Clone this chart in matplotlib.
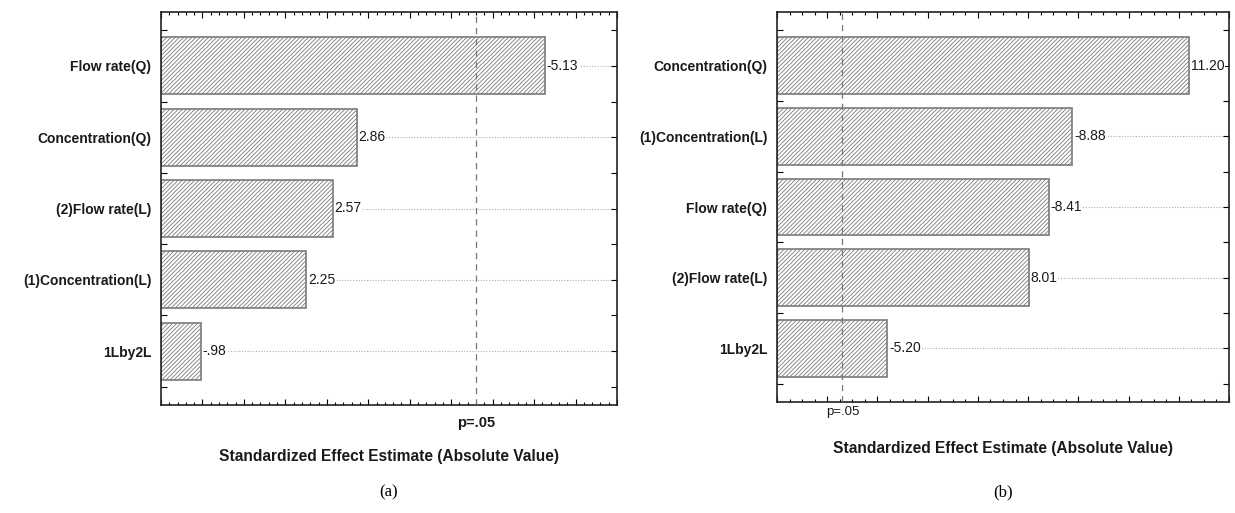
import matplotlib
matplotlib.use("Agg")
import matplotlib.pyplot as plt
from matplotlib.ticker import MultipleLocator, FixedLocator
import matplotlib.transforms as mtrans

plt.rcParams['font.family'] = ['Liberation Sans', 'DejaVu Sans']
plt.rcParams['hatch.linewidth'] = 0.6
plt.rcParams['hatch.color'] = '#7a7a7a'

# Panel (a)
labels_a = ["Flow rate(Q)", "Concentration(Q)", "(2)Flow rate(L)", "(1)Concentration(L)", "1Lby2L"]
values_a = [5.13, 2.86, 2.57, 2.25, 0.98]
texts_a = ["-5.13", "2.86", "2.57", "2.25", "-.98"]
xlim_a = (0.5, 6.0)

# Panel (b)
labels_b = ["Concentration(Q)", "(1)Concentration(L)", "Flow rate(Q)", "(2)Flow rate(L)", "1Lby2L"]
values_b = [11.20, 8.88, 8.41, 8.01, 5.20]
texts_b = ["11.20", "-8.88", "-8.41", "8.01", "-5.20"]
xlim_b = (3.0, 12.0)

p_crit = 4.303
xlabel = "Standardized Effect Estimate (Absolute Value)"

fig = plt.figure(figsize=(12.35, 5.13), dpi=100)
W, H = 1235, 513

def make_ax(l, r, t, b):
    return fig.add_axes([l / W, 1 - b / H, (r - l) / W, (b - t) / H])

ax_a = make_ax(161, 617, 12, 405)
ax_b = make_ax(777, 1229, 12, 402)

text_col = '#1a1a1a'

def draw(ax, labels, values, texts, xlim, p_bold, p_off, xl_y, minor_step, major_step):
    n = len(labels)
    ys = list(range(n))
    xmin = xlim[0]
    for y in ys:
        ax.axhline(y, color='#b0b0b0', linestyle=(0, (1, 1.5)), linewidth=0.8, zorder=0)
    ax.barh(ys, [v - xmin for v in values], left=xmin, height=0.8,
            color='white', edgecolor='#7a7a7a', hatch='////////', linewidth=1.2, zorder=2)
    ax.axvline(p_crit, color='#777777', linestyle=(0, (5, 4)), linewidth=0.9, zorder=3)
    for y, v, t in zip(ys, values, texts):
        ax.text(v + (xlim[1] - xlim[0]) * 0.004, y, t, ha='left', va='center', fontsize=10,
                color=text_col, zorder=4,
                bbox=dict(facecolor='white', edgecolor='none', pad=0.5))
    ax.set_xlim(*xlim)
    ax.set_ylim(n - 1 + 0.757, -0.757)
    ax.set_yticks(ys)
    ax.set_yticklabels(labels, fontsize=10, fontweight='bold', color=text_col)
    ax.yaxis.set_minor_locator(FixedLocator([y + 0.5 for y in ys] + [-0.5]))
    ax.xaxis.set_major_locator(MultipleLocator(major_step))
    ax.xaxis.set_minor_locator(MultipleLocator(minor_step))
    ax.tick_params(axis='x', which='both', direction='in', top=True, bottom=True,
                   labelbottom=False)
    ax.tick_params(axis='x', which='major', length=4, width=0.8)
    ax.tick_params(axis='x', which='minor', length=2, width=0.8)
    ax.tick_params(axis='y', which='both', direction='in', left=True, right=True, pad=7)
    ax.tick_params(axis='y', which='major', length=4, width=0.8)
    ax.tick_params(axis='y', which='minor', length=4, width=0.8)
    for s in ax.spines.values():
        s.set_linewidth(1.2)
        s.set_color('#222222')
    trans = mtrans.blended_transform_factory(ax.transData, ax.transAxes)
    ax.text(p_crit, p_off, "p=.05", transform=trans, ha='center', va='center',
            fontsize=10.5 if p_bold else 9.5, fontweight='bold' if p_bold else 'normal',
            color=text_col)
    ax.set_xlabel(xlabel, fontsize=11.2, fontweight='bold', color=text_col)
    ax.xaxis.set_label_coords(0.5, xl_y)

draw(ax_a, labels_a, values_a, texts_a, xlim_a, True, -0.046, -0.112, 0.1, 0.5)
draw(ax_b, labels_b, values_b, texts_b, xlim_b, False, -0.026, -0.1, 0.25, 1.0)

fig.text(389 / W, 1 - 492 / H, "(a)", ha='center', va='center', fontsize=12,
         family=['Liberation Serif', 'DejaVu Serif'], color='black')
fig.text(1003 / W, 1 - 492 / H, "(b)", ha='center', va='center', fontsize=12,
         family=['Liberation Serif', 'DejaVu Serif'], color='black')

fig.savefig("out.png", dpi=100)
